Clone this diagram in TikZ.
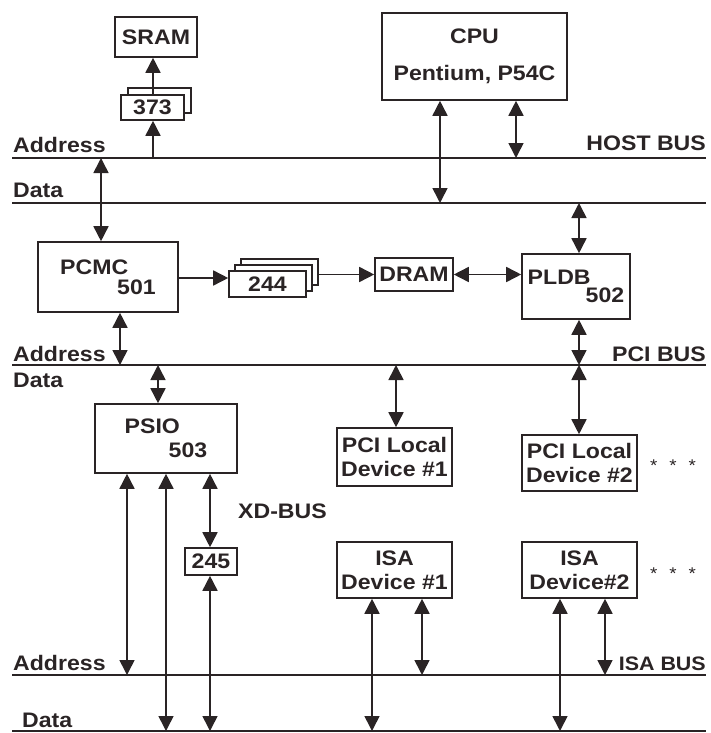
\documentclass[tikz,border=0pt]{standalone}
\usepackage{fontspec}
\setmainfont{Liberation Sans}[FakeStretch=1.1]
\usetikzlibrary{arrows.meta}
\definecolor{ink}{HTML}{2A2425}

\begin{document}
\begin{tikzpicture}[x=1pt,y=-1pt,
    box/.style={draw=ink,line width=1.6pt,fill=white,inner sep=0pt,align=center,text=ink,font=\fontsize{21}{24}\selectfont\bfseries},
    chip/.style={box,align=left},
    buslabel/.style={anchor=base west,inner sep=0pt,text=ink,font=\fontsize{21}{24}\selectfont\bfseries},
    bus/.style={draw=ink,line width=1.7pt},
    link/.style={draw=ink,line width=1.6pt,{Triangle[length=15pt,width=15pt]}-{Triangle[length=15pt,width=15pt]}},
    feed/.style={draw=ink,line width=1.6pt,-{Triangle[length=15pt,width=15pt]}}
  ]
  \useasboundingbox (0,0) rectangle (710,733);

  % buses
  \coordinate (hostA-w) at (12,158); \coordinate (hostA-e) at (706,158);
  \coordinate (hostD-w) at (12,203); \coordinate (hostD-e) at (706,203);
  \coordinate (pci-w) at (12,365);   \coordinate (pci-e) at (706,365);
  \coordinate (isaA-w) at (12,675);  \coordinate (isaA-e) at (706,675);
  \coordinate (isaD-w) at (12,731);  \coordinate (isaD-e) at (706,731);
  \foreach \b in {hostA,hostD,pci,isaA,isaD}
    \draw[bus] (\b-w) -- (\b-e);

  \node[buslabel] (hostAlbl) at (13,153) {Address};
  \node[buslabel] (hostDlbl) at (13,197) {Data};
  \node[buslabel,anchor=base east] (hostlbl) at (706,150) {HOST BUS};
  \node[buslabel] (pciAlbl) at (13,361) {Address};
  \node[buslabel] (pciDlbl) at (13,387) {Data};
  \node[buslabel,anchor=base east] (pcilbl) at (706,361) {PCI BUS};
  \node[buslabel] (xdlbl) at (238,518) {XD-BUS};
  \node[buslabel] (isaAlbl) at (13,670) {Address};
  \node[buslabel] (isaDlbl) at (22,727) {Data};
  \node[buslabel,anchor=base east,font=\fontsize{19.5}{24}\selectfont\bfseries] (isalbl) at (706,670) {ISA BUS};

  % boxes
  \node[box,minimum width=82pt,minimum height=40pt] (sram) at (156,37) {SRAM};
  \node[box,minimum width=63pt,minimum height=25pt] (l373b) at (159.5,100.5) {};
  \node[box,minimum width=63pt,minimum height=25pt] (l373) at (152.5,107.5) {373};
  \node[box,minimum width=185pt,minimum height=87pt] (cpu) at (474.5,56.5) {CPU\\[13pt]Pentium, P54C};
  \node[chip,minimum width=140pt,minimum height=70pt] (pcmc) at (108,277) {PCMC\\[-4pt]\hspace*{57pt}501};
  \node[box,minimum width=77pt,minimum height=26pt] (b244c) at (279.5,272) {};
  \node[box,minimum width=77pt,minimum height=26pt] (b244b) at (273.5,278) {};
  \node[box,minimum width=77pt,minimum height=26pt] (b244) at (267.5,284) {244};
  \node[box,minimum width=78pt,minimum height=33pt] (dram) at (414,274.5) {DRAM};
  \node[chip,minimum width=108pt,minimum height=65pt] (pldb) at (576,286.5) {PLDB\\[-6pt]\hspace*{58pt}502};
  \node[chip,minimum width=142pt,minimum height=69pt] (psio) at (166,438.5) {PSIO\\\hspace*{44pt}503};
  \node[box,minimum width=52pt,minimum height=27pt] (b245) at (211,561.5) {245};
  \node[box,minimum width=115pt,minimum height=58pt] (pci1) at (394.5,457) {PCI Local\\Device \#1};
  \node[box,minimum width=115pt,minimum height=56pt] (pci2) at (579.5,463) {PCI Local\\Device \#2};
  \node[box,minimum width=115pt,minimum height=56pt] (isa1) at (394.5,570) {ISA\\Device \#1};
  \node[box,minimum width=115pt,minimum height=56pt] (isa2) at (579.5,570) {ISA\\Device\#2};
  \node[text=ink,inner sep=0pt,font=\fontsize{17}{17}\selectfont] (more1) at (673,466) {*\hspace{12pt}*\hspace{12pt}*};
  \node[text=ink,inner sep=0pt,font=\fontsize{17}{17}\selectfont] (more2) at (673,574) {*\hspace{12pt}*\hspace{12pt}*};

  % host side
  \draw[feed] (153,0 |- hostA-w) -- (153,0 |- l373.south);
  \draw[feed] (153,0 |- l373.north) -- (153,0 |- sram.south);
  \draw[link] (101,0 |- hostA-w) -- (101,0 |- pcmc.north);
  \draw[link] (440,0 |- cpu.south) -- (440,0 |- hostD-w);
  \draw[link] (516,0 |- cpu.south) -- (516,0 |- hostA-w);
  \draw[link] (579,0 |- hostD-w) -- (579,0 |- pldb.north);

  % memory path
  \draw[feed] (pcmc.east |- 0,278) -- (b244.west |- 0,278);
  \draw[feed] (b244c.east |- dram.west) -- (dram.west);
  \draw[link] (dram.east) -- (pldb.west |- dram.east);

  % pci side
  \draw[link] (120,0 |- pcmc.south) -- (120,0 |- pci-w);
  \draw[link] (579,0 |- pldb.south) -- (579,0 |- pci-w);
  \draw[link] (158,0 |- pci-w) -- (158,0 |- psio.north);
  \draw[link] (396,0 |- pci-w) -- (396,0 |- pci1.north);
  \draw[link] (579,0 |- pci-w) -- (579,0 |- pci2.north);

  % isa side
  \draw[link] (127,0 |- psio.south) -- (127,0 |- isaA-w);
  \draw[link] (166,0 |- psio.south) -- (166,0 |- isaD-w);
  \draw[link] (210,0 |- psio.south) -- (210,0 |- b245.north);
  \draw[link] (210,0 |- b245.south) -- (210,0 |- isaD-w);
  \draw[link] (372,0 |- isa1.south) -- (372,0 |- isaD-w);
  \draw[link] (422,0 |- isa1.south) -- (422,0 |- isaA-w);
  \draw[link] (560,0 |- isa2.south) -- (560,0 |- isaD-w);
  \draw[link] (605,0 |- isa2.south) -- (605,0 |- isaA-w);
\end{tikzpicture}
\end{document}
